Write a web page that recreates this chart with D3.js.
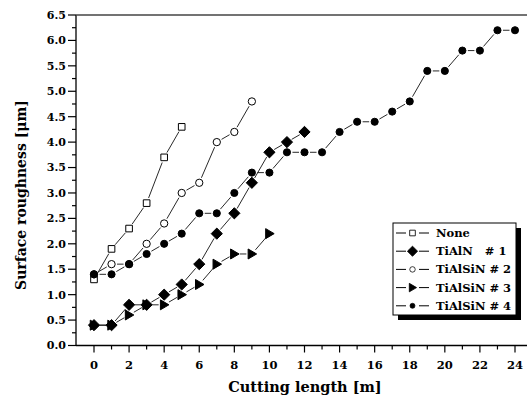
<!DOCTYPE html>
<html>
<head>
<meta charset="utf-8">
<script src="https://cdn.jsdelivr.net/npm/d3@7"></script>
<style>
  body { margin: 0; background: #fff; }
  text { font-family: "DejaVu Serif", "Liberation Serif", serif; font-weight: bold; }
</style>
</head>
<body>
<svg id="chart" width="527" height="399"></svg>
<script>
// data
var seriesNames = ["None", "TiAlN   # 1", "TiAlSiN # 2", "TiAlSiN # 3", "TiAlSiN # 4"];
var noneVals = [1.3, 1.9, 2.3, 2.8, 3.7, 4.3];
var tialnVals = [0.4, 0.4, 0.8, 0.8, 1.0, 1.2, 1.6, 2.2, 2.6, 3.2, 3.8, 4.0, 4.2];
var tialsin2Vals = [1.4, 1.6, 1.6, 2.0, 2.4, 3.0, 3.2, 4.0, 4.2, 4.8];
var tialsin3Vals = [0.4, 0.4, 0.6, 0.8, 0.8, 1.0, 1.2, 1.6, 1.8, 1.8, 2.2];
var tialsin4Vals = [1.4, 1.4, 1.6, 1.8, 2.0, 2.2, 2.6, 2.6, 3.0, 3.4, 3.4, 3.8, 3.8, 3.8,
                    4.2, 4.4, 4.4, 4.6, 4.8, 5.4, 5.4, 5.8, 5.8, 6.2, 6.2];
var xTicks = [0, 2, 4, 6, 8, 10, 12, 14, 16, 18, 20, 22, 24];
var yTicks = [0, 0.5, 1, 1.5, 2, 2.5, 3, 3.5, 4, 4.5, 5, 5.5, 6, 6.5];

var svg = d3.select("#chart");
var padL = 76, padT = 15, padB = 345.5, padR = 527;

var x = d3.scaleLinear().domain([0, 24]).range([94, 515]);
var y = d3.scaleLinear().domain([0, 6.5]).range([padB, padT]);

// marker shapes
var symbols = [
  { type: d3.symbolSquare, size: 44, fill: "#fff" },
  { type: "dia", size: 5.6, fill: "#000" },
  { type: d3.symbolCircle, size: 42, fill: "#fff" },
  { type: "tri", size: 5, fill: "#000" },
  { type: d3.symbolCircle, size: 40, fill: "#000" }
];
var allVals = [noneVals, tialnVals, tialsin2Vals, tialsin3Vals, tialsin4Vals];

function markerPath(s) {
  var r = s.size;
  if (s.type === "tri") {
    return "M" + (-r * 0.75) + "," + (-r) + "L" + (r * 0.95) + ",0L" + (-r * 0.75) + "," + r + "Z";
  }
  if (s.type === "dia") {
    return "M0," + (-r) + "L" + r + ",0L0," + r + "L" + (-r) + ",0Z";
  }
  return d3.symbol().type(s.type).size(s.size)();
}

// x axis
var gx = svg.append("g").attr("transform", "translate(0," + padB + ")");
gx.append("line").attr("x1", padL).attr("x2", padR).attr("stroke", "#000").attr("stroke-width", 1.3);
gx.selectAll(".tk").data(d3.range(0, 25, 1)).enter().append("line")
  .attr("x1", function(d) { return x(d); }).attr("x2", function(d) { return x(d); })
  .attr("y1", 0).attr("y2", function(d) { return d % 2 === 0 ? 7 : 4; })
  .attr("stroke", "#000").attr("stroke-width", 1.2);
gx.selectAll(".lb").data(xTicks).enter().append("text")
  .attr("x", function(d) { return x(d); }).attr("y", 23)
  .attr("text-anchor", "middle").attr("font-size", 11.5)
  .text(function(d) { return d; });

// y axis
var gy = svg.append("g").attr("transform", "translate(" + padL + ",0)");
gy.append("line").attr("y1", padT).attr("y2", padB).attr("stroke", "#000").attr("stroke-width", 1.3);
gy.selectAll(".tk").data(d3.range(0, 6.51, 0.25)).enter().append("line")
  .attr("y1", function(d) { return y(d); }).attr("y2", function(d) { return y(d); })
  .attr("x1", function(d) { return Math.abs(d * 2 - Math.round(d * 2)) < 0.01 ? -8 : -4; }).attr("x2", 0)
  .attr("stroke", "#000").attr("stroke-width", 1.2);
gy.selectAll(".lb").data(yTicks).enter().append("text")
  .attr("x", -10).attr("y", function(d) { return y(d); }).attr("dy", "0.35em")
  .attr("text-anchor", "end").attr("font-size", 11)
  .text(function(d) { return d.toFixed(1); });

// top frame line
svg.append("line").attr("x1", padL).attr("x2", padR).attr("y1", padT).attr("y2", padT)
  .attr("stroke", "#444").attr("stroke-width", 1.5);

// axis titles
svg.append("text").attr("x", 305).attr("y", 392).attr("text-anchor", "middle")
  .attr("font-size", 14.5).text("Cutting length [m]");
svg.append("text").attr("transform", "translate(26,195) rotate(-90)").attr("text-anchor", "middle")
  .attr("font-size", 14).text("Surface roughness [\u03bcm]");

// series: line segments with gaps around markers
var gap = 5.5;
allVals.forEach(function(vals, si) {
  var pts = vals.map(function(v, i) { return [x(i), y(v)]; });
  var g = svg.append("g");
  for (var i = 0; i < pts.length - 1; i++) {
    var a = pts[i], b = pts[i + 1];
    var dx = b[0] - a[0], dy = b[1] - a[1], len = Math.sqrt(dx * dx + dy * dy);
    if (len <= gap * 2) continue;
    var ux = dx / len, uy = dy / len;
    g.append("line")
      .attr("x1", a[0] + ux * gap).attr("y1", a[1] + uy * gap)
      .attr("x2", b[0] - ux * gap).attr("y2", b[1] - uy * gap)
      .attr("stroke", "#111").attr("stroke-width", 0.9);
  }
  g.selectAll("path").data(pts).enter().append("path")
    .attr("transform", function(d) { return "translate(" + d[0] + "," + d[1] + ")"; })
    .attr("d", markerPath(symbols[si]))
    .attr("fill", symbols[si].fill).attr("stroke", "#000").attr("stroke-width", 1);
});

// legend
var lg = svg.append("g").attr("transform", "translate(393,223)");
lg.append("rect").attr("x", 5).attr("y", 5).attr("width", 123).attr("height", 92).attr("fill", "#000");
lg.append("rect").attr("x", 0).attr("y", 0).attr("width", 123).attr("height", 92)
  .attr("fill", "#fff").attr("stroke", "#000").attr("stroke-width", 1);
var legendScale = [0.85, 0.9, 0.75, 0.85, 0.7];
seriesNames.forEach(function(name, i) {
  var ry = 10 + i * 18.2;
  var row = lg.append("g").attr("transform", "translate(0," + ry + ")");
  row.append("line").attr("x1", 3).attr("x2", 13).attr("stroke", "#000");
  row.append("line").attr("x1", 26).attr("x2", 36).attr("stroke", "#000");
  row.append("path").attr("transform", "translate(19.5,0) scale(" + legendScale[i] + ")")
    .attr("d", markerPath(symbols[i]))
    .attr("fill", symbols[i].fill).attr("stroke", "#000");
  row.append("text").attr("x", 43).attr("dy", "0.35em").attr("font-size", 11.5)
    .style("white-space", "pre")
    .text(name);
});
</script>
</body>
</html>
